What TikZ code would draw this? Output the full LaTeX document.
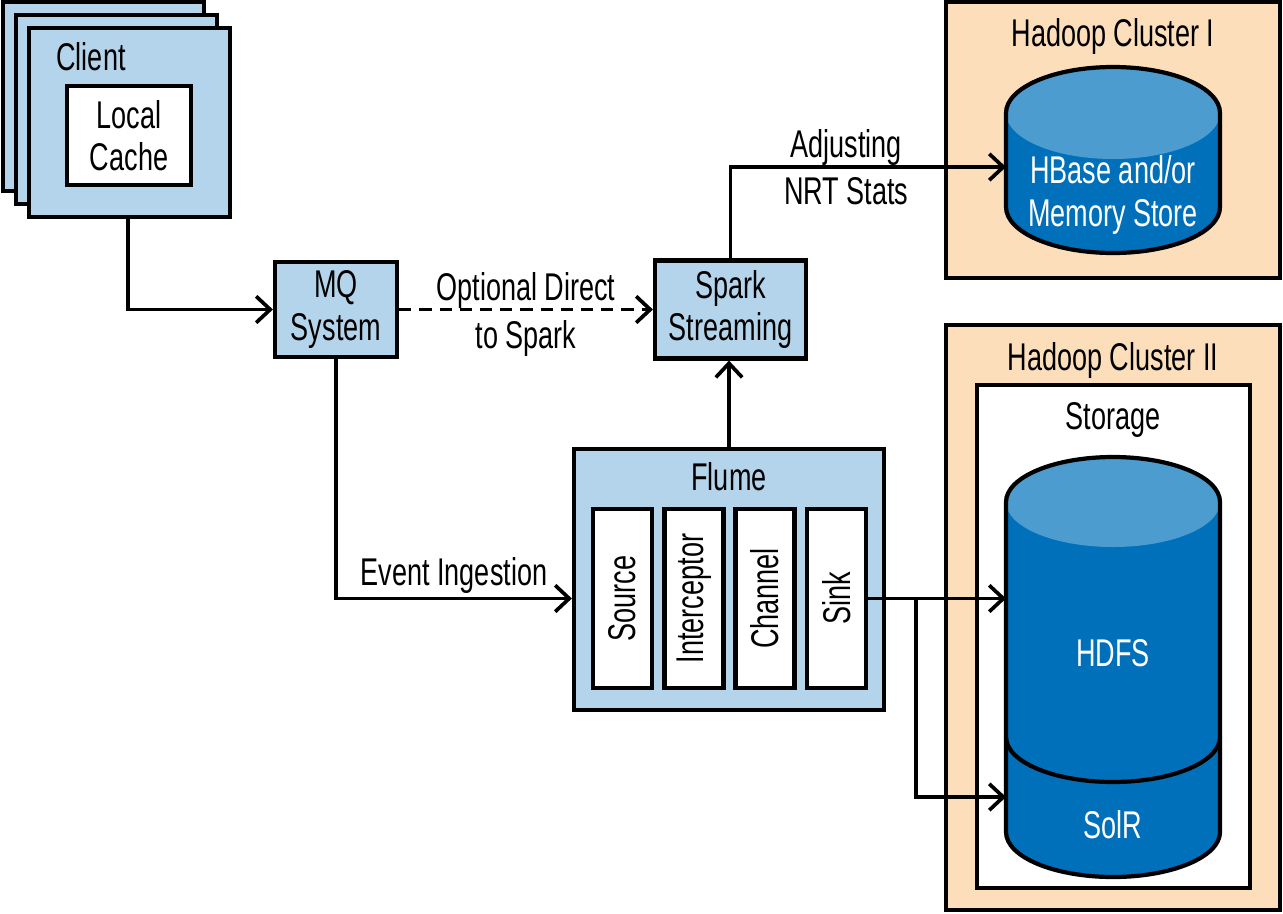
\documentclass[tikz,border=0pt]{standalone}
\usepackage{fontspec}
\setmainfont{Liberation Sans}[FakeStretch=0.7]
\usetikzlibrary{arrows.meta}
\definecolor{boxblue}{RGB}{179,212,234}
\definecolor{peach}{RGB}{252,222,187}
\definecolor{cyldark}{RGB}{0,112,186}
\definecolor{cyllight}{RGB}{76,156,208}
\newcommand{\lblfont}{\fontsize{22}{24}\selectfont}

\begin{document}
\begin{tikzpicture}[x=0.02cm, y=-0.02cm,
    box/.style={rectangle, draw, line width=2.4pt, fill=boxblue, align=center,
                font=\lblfont, inner sep=0pt},
    inbox/.style={rectangle, draw, line width=2.4pt, fill=white, align=center,
                  font=\lblfont, inner sep=0pt},
    cluster/.style={rectangle, draw, line width=2.4pt, fill=peach, inner sep=0pt},
    title/.style={font=\lblfont, inner sep=0pt},
    lbl/.style={font=\fontsize{22}{27}\selectfont, align=center, inner sep=0pt},
    arrow/.style={-{Straight Barb[length=8pt, width=15pt]}, line width=2.1pt},
    cylline/.style={line width=2.4pt}
]
\useasboundingbox (0,0) rectangle (1283,913);

% Hadoop clusters
\node[cluster, minimum width=6.68cm, minimum height=5.52cm] (hc1) at (1113,140) {};
\node[title] (hc1t) at (1113,37) {Hadoop Cluster I};
\node[cluster, minimum width=6.68cm, minimum height=11.7cm] (hc2) at (1113,617.5) {};
\node[title] (hc2t) at (1113,360) {Hadoop Cluster II};
\node[inbox, minimum width=5.46cm, minimum height=10.06cm] (storage) at (1113.5,636.5) {};
\node[title] (storaget) at (1113,420) {Storage};

% HBase cylinder
\fill[cyldark] (1006,113) -- (1006,207) arc[start angle=180, end angle=0, x radius=107, y radius=46]
    -- (1220,113) -- cycle;
\fill[cyllight] (1113,113) ellipse[x radius=107, y radius=46];
\draw[cylline] (1220,113) arc[start angle=0, end angle=-180, x radius=107, y radius=46]
    -- (1006,207) arc[start angle=180, end angle=0, x radius=107, y radius=46] -- cycle;
\node[title, text=white, align=center] (hbase) at (1113,195) {HBase and/or\\Memory Store};
\coordinate (hbasein) at (1006,167);

% HDFS / SolR cylinder
\fill[cyldark] (1006,502) -- (1006,832) arc[start angle=180, end angle=0, x radius=107, y radius=45]
    -- (1220,502) -- cycle;
\fill[cyllight] (1113,502) ellipse[x radius=107, y radius=45];
\draw[cylline] (1220,502) arc[start angle=0, end angle=-180, x radius=107, y radius=45]
    -- (1006,832) arc[start angle=180, end angle=0, x radius=107, y radius=45] -- cycle;
\draw[cylline] (1006,737) arc[start angle=180, end angle=0, x radius=107, y radius=45];
\node[title, text=white] (hdfs) at (1113,653) {HDFS};
\node[title, text=white] (solr) at (1113,825) {SolR};
\coordinate (hdfsin) at (1006,598.5);
\coordinate (solrin) at (1006,797);

% Clients
\node[box, minimum width=4.02cm, minimum height=3.78cm] (client3) at (103.5,96.5) {};
\node[box, minimum width=4.02cm, minimum height=3.78cm] (client2) at (116.5,109.5) {};
\node[box, minimum width=4.02cm, minimum height=3.78cm] (client1) at (129.5,122.5) {};
\node[title] (clientt) at (91,57) {Client};
\node[inbox, minimum width=2.48cm, minimum height=1.98cm] (cache) at (129,135.5) {Local\\Cache};

% MQ and Spark
\node[box, minimum width=2.44cm, minimum height=1.9cm] (mq) at (336,309.5) {MQ\\System};
\node[box, minimum width=3.02cm, minimum height=1.96cm] (spark) at (730.5,309.5) {Spark\\Streaming};

% Flume
\node[box, minimum width=6.2cm, minimum height=5.22cm] (flume) at (729,579.5) {};
\node[title] (flumet) at (729,477) {Flume};
\node[inbox, minimum width=1.18cm, minimum height=3.58cm] (source) at (622.5,598.5) {\rotatebox{90}{Source}};
\node[inbox, minimum width=1.18cm, minimum height=3.58cm] (intercept) at (694,598.5) {\rotatebox{90}{Interceptor}};
\node[inbox, minimum width=1.18cm, minimum height=3.58cm] (channel) at (765,598.5) {\rotatebox{90}{Channel}};
\node[inbox, minimum width=1.18cm, minimum height=3.58cm] (sink) at (836.5,598.5) {\rotatebox{90}{Sink}};
\coordinate (split) at (916,598.5);

% Connectors
\draw[arrow] (client1.south -| 128,0) |- (mq.west);
\draw[arrow, dash pattern=on 7pt off 4.5pt] (mq.east) -- (spark.west)
    node[lbl, midway, yshift=-0.1cm] {Optional Direct\\to Spark};
\draw[arrow] (spark.north) |- (hbasein)
    node[lbl, pos=0.71] {Adjusting\\NRT Stats};
\draw[arrow] (mq.south) |- (flume.west |- source.center)
    node[lbl, pos=0.75, above=2pt] {Event Ingestion};
\draw[arrow] (flume.north) -- (flume.north |- spark.south);
\draw[arrow] (sink.east) -- (hdfsin);
\draw[arrow] (split) |- (solrin);
\end{tikzpicture}
\end{document}
